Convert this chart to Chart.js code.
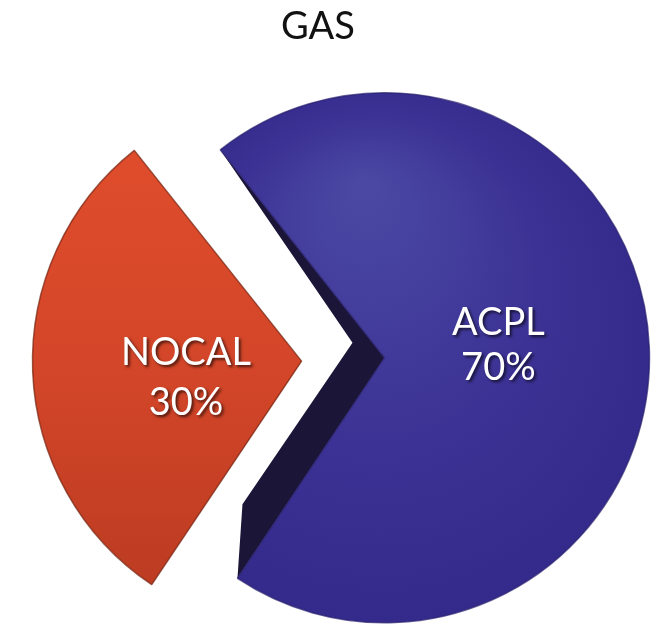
<!DOCTYPE html>
<html>
<head>
<meta charset="utf-8">
<title>GAS</title>
<script src="https://cdn.jsdelivr.net/npm/chart.js@4.4.1/dist/chart.umd.min.js"></script>
<style>
  html, body { margin: 0; padding: 0; background: #fff; }
  #wrap { width: 652px; height: 636px; }
</style>
</head>
<body>
<div id="wrap"><canvas id="gas-chart"></canvas></div>
<script>
// dados do grafico
const sliceLabels = ['ACPL', 'NOCAL'];
const sliceShares = [70, 30];
const chartTitle = 'GAS';

// estilo
const pieRadius = 265;
const explodeOffsets = [0, 332];
const labelFont = '38px Lato, "Open Sans", sans-serif';
const labelNudgeY = [-8, 12];
const labelLineGap = [45, 50];

// mesma conta que o ArcElement faz com o offset (translada offset/4 e,
// em fatias grandes, aumenta o raio)
function arcGeom(arc) {
  const offset = (arc.options.offset || 0) / 4;
  const circ = arc.endAngle - arc.startAngle;
  const fix = 1 - Math.sin(Math.min(Math.PI, circ));
  const mid = (arc.startAngle + arc.endAngle) / 2;
  return {
    x: arc.x + Math.cos(mid) * offset,
    y: arc.y + Math.sin(mid) * offset,
    r: arc.outerRadius + offset * fix,
    mid: mid
  };
}

function sliceFill(context) {
  const chart = context.chart;
  const area = chart.chartArea;
  const i = context.dataIndex;
  if (!area) return i === 0 ? '#3b3194' : '#d8472a';
  const cx = (area.left + area.right) / 2;
  const cy = (area.top + area.bottom) / 2;
  const ctx = chart.ctx;
  if (i === 0) {
    const g = ctx.createRadialGradient(cx - 20, cy - 170, 10, cx, cy, pieRadius * 1.1);
    g.addColorStop(0, '#4a48a3');
    g.addColorStop(0.55, '#3c3295');
    g.addColorStop(1, '#33298a');
    return g;
  }
  const g = ctx.createLinearGradient(0, cy - pieRadius, 0, cy + pieRadius);
  g.addColorStop(0, '#e14e2c');
  g.addColorStop(0.5, '#d44629');
  g.addColorStop(1, '#b83a21');
  return g;
}

// parede lateral escura da fatia ACPL (efeito 3D)
const sideWall = {
  id: 'sideWall',
  beforeDatasetsDraw(chart) {
    const arc = chart.getDatasetMeta(0).data[0];
    if (!arc) return;
    const c = arcGeom(arc);
    const T = { x: c.x + Math.cos(arc.startAngle) * c.r, y: c.y + Math.sin(arc.startAngle) * c.r };
    const B = { x: c.x + Math.cos(arc.endAngle) * c.r, y: c.y + Math.sin(arc.endAngle) * c.r };
    const ctx = chart.ctx;
    ctx.save();
    ctx.beginPath();
    ctx.moveTo(T.x, T.y);
    ctx.lineTo(c.x, c.y);
    ctx.lineTo(B.x, B.y);
    ctx.lineTo(B.x + 5, B.y - 74);
    ctx.lineTo(c.x - 32, c.y - 15);
    ctx.closePath();
    ctx.fillStyle = '#1b1637';
    ctx.fill();
    ctx.restore();
  }
};

// rotulos dentro das fatias
const sliceText = {
  id: 'sliceText',
  afterDatasetsDraw(chart) {
    const ctx = chart.ctx;
    const arcs = chart.getDatasetMeta(0).data;
    ctx.save();
    ctx.font = labelFont;
    ctx.fillStyle = '#ffffff';
    ctx.textAlign = 'center';
    ctx.textBaseline = 'middle';
    ctx.shadowColor = 'rgba(0,0,0,0.65)';
    ctx.shadowOffsetX = 2;
    ctx.shadowOffsetY = 2;
    ctx.shadowBlur = 3;
    arcs.forEach((arc, i) => {
      const c = arcGeom(arc);
      const r = c.r * 0.43;
      const x = c.x + Math.cos(c.mid) * r;
      const y = c.y + Math.sin(c.mid) * r + labelNudgeY[i];
      const half = labelLineGap[i] / 2;
      ctx.fillText(sliceLabels[i], x, y - half);
      ctx.fillText(sliceShares[i] + '%', x, y + half);
    });
    ctx.restore();
  }
};

new Chart(document.getElementById('gas-chart'), {
  type: 'pie',
  data: {
    labels: sliceLabels,
    datasets: [{
      data: sliceShares,
      backgroundColor: sliceFill,
      borderColor: ['rgba(40,32,110,0.7)', 'rgba(115,30,10,0.7)'],
      borderWidth: 1.5,
      offset: explodeOffsets,
      clip: false
    }]
  },
  options: {
    responsive: true,
    maintainAspectRatio: false,
    animation: false,
    radius: pieRadius,
    cutout: '0%',
    rotation: -38.3,
    // area do grafico deslocada para a direita; o titulo comeca no padding esquerdo
    layout: { padding: { left: 281, right: 164, top: 0, bottom: 0 } },
    plugins: {
      legend: { display: false },
      tooltip: { enabled: false },
      title: {
        display: true,
        text: chartTitle,
        align: 'start',
        color: '#111',
        font: { family: 'Lato, "Open Sans", sans-serif', size: 38, weight: 'normal' },
        padding: { top: 4, bottom: 30 }
      }
    }
  },
  plugins: [sideWall, sliceText]
});
</script>
</body>
</html>
